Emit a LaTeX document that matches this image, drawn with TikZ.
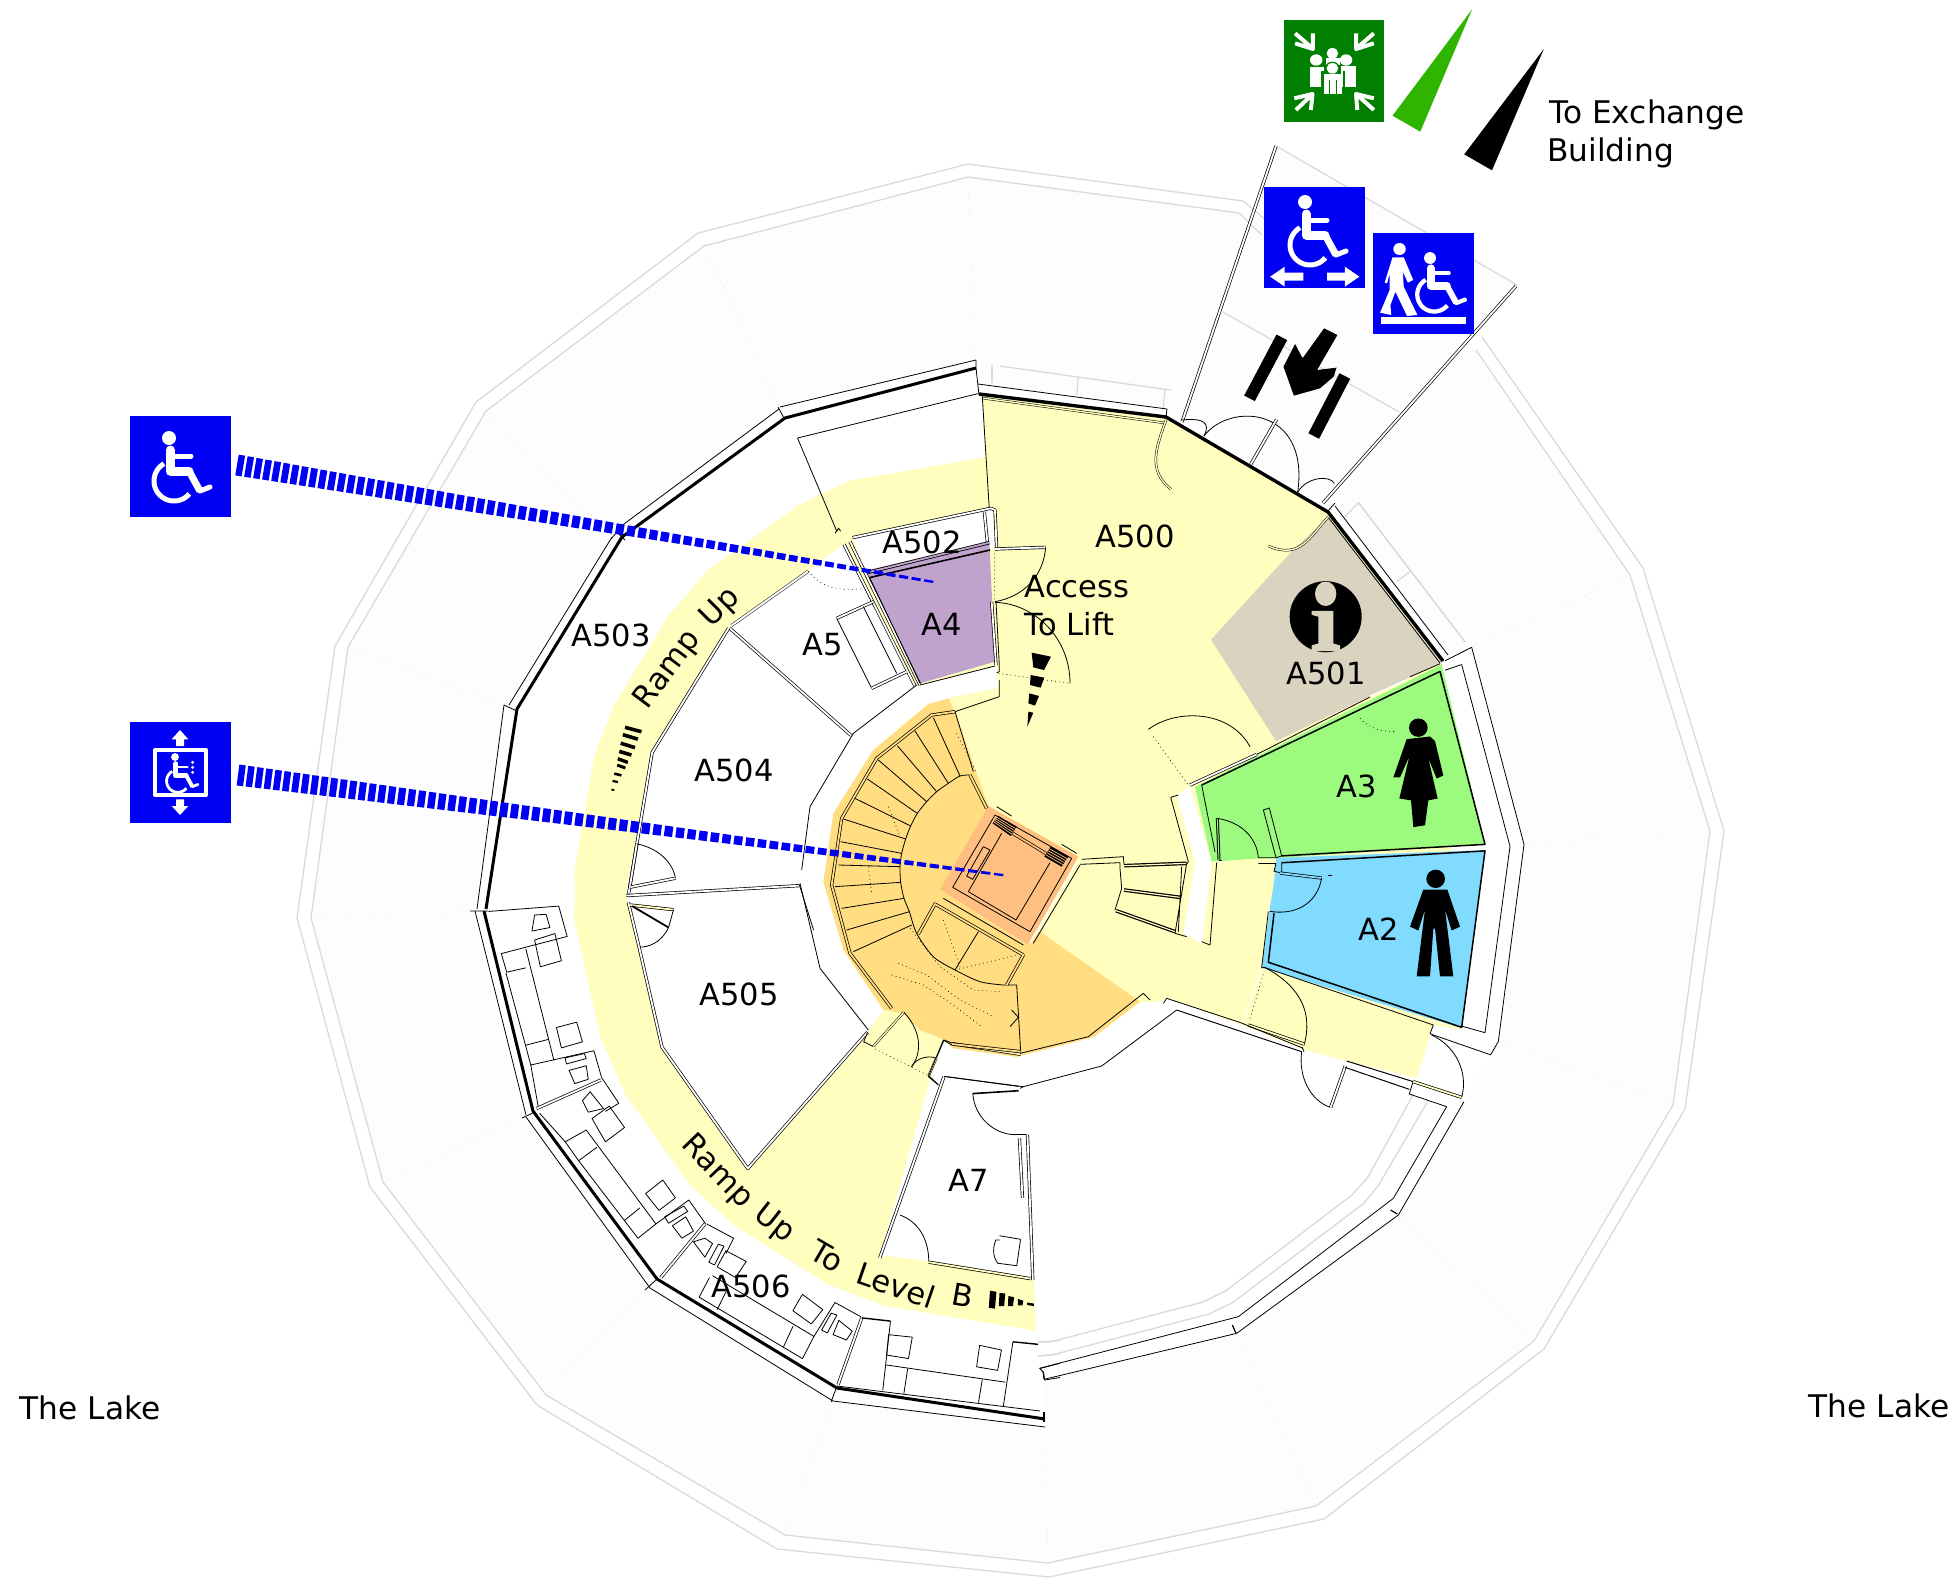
\documentclass[tikz,border=0pt]{standalone}
\usepackage{fontspec}
\setmainfont{DejaVu Sans}
\usetikzlibrary{calc}
\definecolor{yel}{HTML}{FFFEBE}
\definecolor{org}{HTML}{FFDD80}
\definecolor{lift}{HTML}{FFBF80}
\definecolor{pur}{HTML}{BFA3CC}
\definecolor{inf}{HTML}{DAD3C0}
\definecolor{grn}{HTML}{9CFB7F}
\definecolor{blu}{HTML}{80DBFF}
\definecolor{signb}{HTML}{0000F5}
\definecolor{signg}{HTML}{007F00}
\definecolor{wedge}{HTML}{2FB500}
\definecolor{deck}{HTML}{FDFDFD}
\definecolor{ring}{HTML}{DADADA}
\tikzset{
  z1/.style={shift={(1150pt,0pt)},x=0.41454pt,y=-0.33333pt},
  z2/.style={shift={(750pt,-450pt)},x=0.33333pt,y=-0.33333pt},
  z3/.style={shift={(800pt,-680pt)},x=0.33333pt,y=-0.33333pt},
  z4/.style={shift={(1150pt,-500pt)},x=0.33333pt,y=-0.38265pt},
  z5/.style={shift={(460pt,-890pt)},x=0.38265pt,y=-0.35714pt},
  z6/.style={shift={(1000pt,-980pt)},x=0.33333pt,y=-0.33333pt},
  z7/.style={shift={(460pt,-350pt)},x=0.35714pt,y=-0.36990pt},
  z8/.style={shift={(1000pt,-330pt)},x=0.33333pt,y=-0.33333pt},
  z9/.style={shift={(100pt,-400pt)},x=0.33333pt,y=-0.33333pt},
  thk/.style={line width=3pt},
  dbl/.style={line width=0.7pt,double,double distance=1.8pt},
  pale/.style={line width=0.5pt,double=yel,double distance=1.4pt},
  gr/.style={draw=ring,line width=1.3pt},
  dots/.style={line width=0.6pt,dash pattern=on 0.9pt off 3.2pt},
  faint/.style={draw=black!12,line width=0.5pt,dash pattern=on 0.8pt off 3pt},
  lbl/.style={font=\fontsize{30.5}{38}\selectfont,inner sep=0pt},
  lblw/.style={font=\fontsize{31.2}{38}\selectfont,inner sep=0pt},
  signbox/.style={fill=signb,draw=none,inner sep=0pt,minimum width=101pt,minimum height=101pt}
}
\newcommand{\WheelIcon}[3]{%
 \begin{scope}[shift={(#1pt,-#2pt)},x=#3pt,y=-#3pt]
  \fill[white] (0,0) circle[radius=7];
  \draw[white,line width={9*#3 pt},line cap=round] (1,12)--(1,33)--(20,33);
  \draw[white,line width={5*#3 pt},line cap=round] (1,18)--(22,18);
  \draw[white,line width={7*#3 pt}] (20,33)--(31,53);
  \draw[white,line width={5*#3 pt},line cap=round] (31,53)--(41,49);
  \draw[white,line width={5*#3 pt}] plot[domain=40:240,samples=30] ({5+20*cos(\x)},{43+20*sin(\x)});
 \end{scope}}
\newcommand{\BlueDashes}[4]{%
 \foreach \i in {0,...,#3}{%
  \pgfmathsetmacro\ta{(9*\i+0.03*\i*\i)/#4}%
  \pgfmathsetmacro\tb{\ta+0.72*(9+0.06*\i)/#4}%
  \pgfmathsetmacro\wd{21-19*\ta}%
  \draw[signb,line width=\wd pt] ($(#1)!\ta!(#2)$) -- ($(#1)!\tb!(#2)$);
 }}
\begin{document}
\begin{tikzpicture}[x=1pt,y=-1pt,line width=0.8pt,line join=round]
\useasboundingbox (0,0) rectangle (1959,1590);
\fill[white] (0,0) rectangle (1959,1590);

% deck
\fill[deck] (968,177)--(1243,213)--(1476,350)--(1630,575)--(1710,831)--(1673,1105)--(1534,1341)--(1316,1506)--(1048,1563)--(785,1535)--(546,1395)--(383,1182)--(311,918)--(348,647)--(486,411)--(704,246)--cycle;
\fill[deck] (1276,146)--(1517,285)--(1323,503)--(1182,422)--cycle;
% faint radial lines
\draw[faint] (968,177)--(975,360) (704,246)--(780,407) (486,411)--(611,535) (348,647)--(504,705) (311,918)--(475,911) (383,1182)--(526,1115) (546,1395)--(650,1288) (785,1535)--(833,1400) (1048,1563)--(1044,1379) (1316,1506)--(1237,1333) (1534,1341)--(1398,1215) (1673,1105)--(1498,1041) (1710,831)--(1524,844) (1630,575)--(1472,647);
% grey rings
\draw[gr] (1268,222)--(1243,201)--(968,164)--(698,233)--(476,402)--(335,646)--(297,918)--(370,1187)--(537,1405)--(777,1549)--(1049,1577)--(1324,1519)--(1544,1349)--(1685,1109)--(1724,831)--(1643,568)--(1482,337);
\draw[gr] (1262,235)--(1239,213)--(968,177)--(704,246)--(486,411)--(348,647)--(311,918)--(383,1182)--(546,1395)--(785,1535)--(1048,1563)--(1316,1506)--(1534,1341)--(1673,1105)--(1710,831)--(1630,575)--(1476,350);
\draw[gr] (1276,146)--(1517,285);
\draw[gr] (1223,312)--(1399,412);

% building interior white
\fill[white] (976,360)--(780,407)--(611,539)--(504,705)--(475,911)--(526,1115)--(650,1288)--(833,1401)--(1045,1427)--(1044,1379)--(1237,1333)--(1398,1215)--(1464,1102)--(1491,1055)--(1498,1041)--(1524,844)--(1472,647)--(1445,657)--(1335,506)--(1166,410)--(978,384)--cycle;
\draw[gr] (1413,1095)--(1368,1177)--(1352,1195)--(1227,1290)--(1203,1302)--(1050,1342)--(1038,1342);
\draw[gr] (1428,1101)--(1378,1186)--(1363,1204)--(1232,1303)--(1209,1314)--(1052,1355)--(1038,1356);
\begin{scope}[z8]
 \draw[gr] (0,108)--(495,178)--(515,180) (235,140)--(230,195) (495,178)--(490,235);
 \draw[gr] (1075,518)--(1395,935)  (1230,725)--(1190,755) (1035,560)--(1075,518);
\end{scope}
\draw[gr] (992,365)--(992,383);

% yellow base
\fill[yel] (982,394)--(1166,417)--(1328,511)--(1442,663)--(1462,1030)--(1433,1025)--(1417,1078)--(1347,1061)--(1305,1050)--(1240,1024)--(1167,998)--(1160,1002)--(1140,1002)--(1093,1037)--(1017,1057)--(953,1048)--(943,1040)--(930,1080)--(879,1258)--(887,1256)--(929,1261)--(1029,1279)--(1034,1281)--(1036,1331)--(885,1306)--(829,1285)--(735,1226)--(690,1185)--(625,1094)--(600,1036)--(574,919)--(575,890)--(574,875)--(594,757)--(614,705)--(669,615)--(708,570)--(799,505)--(849,481)--(985,457)--cycle;

% white rooms over yellow
\fill[white] (731,626)--(651,751)--(626,894)--(661,1047)--(748,1170)--(868,1031)--(883,1011)--(900,1000)--(920,800)--(948,698)--(998,688)--(997,665)--(915,686)--(845,543)--(808,571)--cycle;
\fill[white] (853,537)--(992,507)--(995,547)--(866,575)--cycle;
\begin{scope}[z3]
 \fill[white] (1130,345)--(1170,318)--(1235,550)--(1205,790)--(1150,760)--(1185,545)--cycle;
\end{scope}

% orange
\begin{scope}[z3]
 \fill[org] (445,55)--(385,72)--(220,210)--(100,400)--(70,605)--(130,810)--(250,990)--(310,1000)--(360,1050)--(430,1078)--(460,1105)--(650,1130)--(880,1072)--(1020,965)--(720,755)--(680,795)--(420,628)--(565,380)--(465,95)--cycle;
 \fill[lift] (565,378)--(835,530)--(683,795)--(420,628)--cycle;
\end{scope}

% coloured rooms
\begin{scope}[z4]
 \fill[inf] (535,45)--(875,425)--(775,465)--(378,630)--(183,365)--(430,130)--cycle;
 \fill[grn] (135,750)--(875,430)--(1005,900)--(385,935)--(320,937)--(185,945)--cycle;
 \fill[blu] (378,935)--(1005,915)--(935,1380)--(335,1222)--(358,1075)--(372,1000)--cycle;
\end{scope}
\begin{scope}[z2]
 \fill[pur] (345,362)--(718,278)--(735,635)--(510,700)--cycle;
\end{scope}

% outer walls
\draw[thk] (976,368)--(785,418)--(622,537)--(517,709)--(486,909);
\draw (976,360)--(780,407) (779,409)--(624,524)--(611,539) (612,537)--(509,705) (504,705)--(477,909);
\draw (976,360)--(976,368)--(979,395);
\draw (778,407)--(785,420) (616,531)--(625,540) (504,705)--(517,711) (470,911)--(488,911);
\draw[thk] (484,911)--(533,1111)--(657,1279)--(837,1388)--(1045,1419);
\draw (475,911)--(526,1115) (526,1117)--(650,1288) (650,1288)--(833,1401)--(1045,1427);
\draw (522,1118)--(535,1112) (645,1290)--(657,1279) (831,1402)--(837,1386)--(1040,1411);
\draw[line width=2.5pt] (1044,1412)--(1044,1422);

% top-right wall
\draw[line width=3.4pt] (979,394)--(1166,417)--(1328,512)--(1443,661);
\draw (978,384)--(1167,409)--(1166,417);
\draw[pale] (982,398)--(1165,423);
\draw (1335,506)--(1448,655) (1328,517)--(1440,663) (1335,503)--(1328,511);
\draw[gr] (1358,502)--(1465,642);

% corridor
\draw[dbl] (1276,146)--(1182,422);
\draw[dbl] (1516,286)--(1323,503);
\begin{scope}[z8]
 \draw (545,270) .. controls (640,260) and (620,300) .. (612,318);
 \draw (612,318) .. controls (690,215) and (930,230) .. (893,487);
 \draw[dbl] (752,403)--(830,268);
 \draw (893,487) .. controls (920,440) and (990,435) .. (1003,460);
 \draw[pale] (498,270) .. controls (470,350) and (440,420) .. (513,478);
 \draw[pale] (985,560) .. controls (930,620) and (900,690) .. (805,648);
\end{scope}
% entrance arrow
\begin{scope}[z1]
 \draw[line width=12pt] (318,1012)--(240,1195);
 \draw[line width=12pt] (470,1128)--(395,1308);
 \fill (420,985)--(452,1005)--(403,1110)--(450,1103)--(443,1130)--(410,1165)--(347,1187)--(322,1100)--(350,1032)--(368,1075)--cycle;
 \fill[wedge] (777,28)--(585,347)--(652,395)--cycle;
 \fill (950,147)--(758,463)--(825,511)--cycle;
\end{scope}

% room A4, A502, A5 walls
\begin{scope}[z7]
 \draw (945,238)--(1450,118) (945,238)--(1055,490) (1462,120)--(1482,430);
 \draw (1055,490)--(1060,482) (1050,495)--(1060,482)--(1066,490);
\end{scope}
\begin{scope}[z2]
 \draw[dbl] (307,263)--(722,175)--(735,180)--(740,298);
 \draw[dbl] (703,185)--(712,275);
 \draw[dbl,double=pur,line width=0.8pt] (350,368)--(718,278);
 \draw[line width=1.6pt] (358,383)--(720,300);
 \draw[dbl] (282,283)--(495,708);
 \draw[dbl] (300,275)--(510,705);
 \draw (360,385)--(510,700);
 \draw (510,705)--(735,648);
 \draw[dbl] (725,455)--(738,645);
 \draw (738,455)--(748,648)--(748,665)--(740,668);
 \draw[dbl] (735,297)--(887,292);
 \draw (887,292) .. controls (880,380) and (820,440) .. (735,455);
 \draw (735,457) .. controls (850,460) and (960,560) .. (960,700);
 \draw[dots] (745,670)--(960,700) (733,310)--(733,450);
 \draw (748,690)--(748,740)--(615,785)--(548,795);
 \draw[dbl] (260,505)--(370,455);
 \draw (260,505)--(365,715);
 \draw[dbl] (365,715)--(470,665);
 \draw (340,470)--(440,670);
 \draw (500,705)--(310,850)--(180,1070)--(155,1260);
\end{scope}
\begin{scope}[z7]
 \draw[dbl,draw=black!70] (760,745)--(975,598);
 \draw[dots] (975,598) .. controls (1020,650) and (1070,650) .. (1130,645);
 \draw[dbl] (755,752)--(1095,1042);
 \draw[dbl] (752,752)--(538,1088)--(472,1470);
 \draw[dbl] (495,1335)--(475,1455);
 \draw (495,1335) .. controls (570,1350) and (600,1400) .. (603,1428);
 \draw[dbl] (603,1428)--(478,1452);
 \draw[dbl] (465,1475)--(950,1448);
 \draw (950,1445)--(990,1568);
\end{scope}

% lower-left rooms
\begin{scope}[z3]
 \draw (0,610)--(60,865)--(205,1050);
\end{scope}
\begin{scope}[z5]
 \draw[dbl] (440,35)--(468,160);
 \draw[dbl] (468,160)--(528,440)--(752,780)--(1065,398);
 \draw[dbl,double=yel] (445,42)--(558,55);
 \draw[line width=1.8pt] (450,45)--(545,105);
 \draw (558,55)--(545,105);
 \draw (545,105) .. controls (525,150) and (490,160) .. (470,160);
 \draw (1065,398)--(1055,425)--(1080,438);
 \draw[pale] (1080,438)--(1160,342);
 \draw (1160,342) .. controls (1210,400) and (1205,460) .. (1180,495);
 \draw (1180,495) .. controls (1195,465) and (1230,465) .. (1243,470);
 \draw[pale] (1225,520)--(1245,470);
 \draw (1225,520)--(1250,545);
 \draw (1245,470)--(1265,420)--(1285,428);
 \draw[dbl,double=yel] (1285,430)--(1465,460);
 \draw[dots] (1085,445)--(1225,520);
 % A7
 \draw[dbl] (1265,522)--(1097,1030);
 \draw (1265,522)--(1460,550);
 \draw[line width=1.6pt] (1340,570)--(1460,562);
 \draw (1340,570) .. controls (1345,640) and (1400,685) .. (1450,685);
 \draw (1450,685)--(1478,685);
 \draw[dbl] (1483,685)--(1497,1092);
 \draw[dbl] (1462,695)--(1470,862);
 \draw[dbl,double=yel] (1225,1042)--(1490,1088);
 \draw (1150,910) .. controls (1200,930) and (1225,980) .. (1225,1040);
 \draw (1410,968)--(1465,978) (1400,980) .. controls (1390,1010) and (1395,1030) .. (1405,1045) (1405,1045)--(1455,1052)--(1465,978) (1410,980)--(1400,980);
 % office 1
 \draw (75,60)--(258,45)--(280,130)--(108,178)--(122,230)--(172,218);
 \draw (172,165)--(245,475) (120,232)--(185,490)--(350,450)--(370,525) (170,435)--(232,418);
 \draw (195,70)--(225,68)--(235,105)--(188,115)--cycle;
 \draw (195,140)--(248,122)--(265,198)--(210,215)--cycle;
 \draw (252,385)--(305,370)--(320,425)--(265,442)--cycle;
 \draw (275,470)--(325,458)--(330,472)--(278,487)--cycle;
 \draw (285,505)--(330,492)--(335,530)--(300,542)--cycle;
 \draw (185,490)--(205,610);
 \draw[dbl] (200,612)--(368,532);
 \draw (370,525)--(415,597)--(380,620);
 % office 2
 \draw (340,565)--(375,612)--(335,622)--(320,590)--cycle;
 \draw (345,640)--(390,605)--(430,665)--(380,705)--cycle;
 \draw (208,625)--(275,705)--(330,672)--(512,935);
 \draw (310,758)--(358,720) (275,705)--(310,758)--(465,975)--(512,935) (430,925)--(470,890);
 \draw (485,850)--(530,812)--(563,862)--(520,897)--cycle;
 \draw (535,915)--(585,885)--(595,900)--(545,933)--cycle;
 \draw (555,940)--(590,915)--(610,955)--(580,975)--cycle;
 \draw (512,935)--(598,868)--(642,935);
 \draw[dbl] (525,1085)--(640,935);
 % office 3
 \draw (645,935)--(715,975)--(695,1018);
 \draw (610,985)--(640,975)--(660,990)--(640,1028)--cycle;
 \draw (675,992)--(690,997)--(665,1050)--(650,1042)--cycle;
 \draw (695,1010)--(748,1040)--(720,1085)--(672,1055)--cycle;
 \draw (660,1080)--(925,1250) (625,1140)--(652,1085) (625,1140)--(895,1312)--(925,1250) (672,1175)--(695,1125) (845,1280)--(870,1222);
 \draw (895,1132)--(948,1175)--(918,1215)--(870,1178)--cycle;
 \draw (970,1185)--(985,1190)--(960,1240)--(945,1232)--cycle;
 \draw (990,1205)--(1025,1235)--(1010,1260)--(975,1245)--cycle;
 \draw (925,1250)--(980,1155)--(1048,1195);
 \draw[dbl] (988,1385)--(1050,1198);
 % office 4
 \draw[line width=1.4pt] (1050,1198)--(1125,1207);
 \draw (1125,1207)--(1105,1400) (1115,1330)--(1425,1378);
 \draw[line width=1.4pt] (1445,1265)--(1510,1272);
 \draw (1445,1265)--(1420,1445);
 \draw (1120,1245)--(1182,1252)--(1172,1312)--(1115,1302)--cycle;
 \draw (1358,1275)--(1415,1288)--(1405,1345)--(1350,1335)--cycle;
 \draw (1170,1340)--(1160,1410) (1365,1370)--(1355,1435);
 \draw (1568,1325)--(1515,1340)--(1525,1350)--(1528,1372)--(1568,1365);
 \draw[gr] (1510,1265)--(1568,1262) (1510,1305)--(1568,1298);
\end{scope}

% stairs
\begin{scope}[z3]
 \draw[dbl,double=org] (465,95)--(395,105)--(230,235)--(125,415)--(95,615)--(150,820)--(275,985);
 \foreach \a/\b/\c/\d in {400/113/480/288,345/153/445/310,292/197/410/335,235/240/380/365,202/297/352/400,165/355/332/438,130/417/317/477,122/485/305/520,115/555/300/560,105/620/302/607,125/685/312/655,140/750/328/695,160/815/335/735}
  \draw (\a,\b)--(\c,\d);
 \draw (465,95)--(520,275);
 \draw[dbl,double=org] (510,285)--(560,385);
 \draw plot[smooth] coordinates {(510,285)(480,288)(445,310)(410,335)(380,365)(352,400)(332,438)(317,477)(305,520)(300,560)(302,607)(312,655)(328,695)(350,760)(400,830)(465,870)(540,905)(610,915)};
 \draw (610,915)--(650,915)--(662,1115);
 \draw[dbl,double=org] (455,1092)--(662,1115);
 \draw (430,1080)--(455,1095) (430,1080)--(385,1190);
 \draw[dbl,double=org] (355,762)--(405,672)--(670,825)--(620,915);
 \draw (535,755)--(465,870);
 \draw (635,990)--(655,1012)--(630,1040);
 \draw[dots] (275,885)--(370,915)--(460,975)--(545,1040);
 \draw[dots] (295,850)--(380,885)--(480,960)--(580,1010);
 \draw[dots] (330,745)--(420,860)--(520,930)--(600,935);
 \draw[dots] (465,870)--(650,825) (430,720)--(480,860);
 \draw[dots] (205,560)--(215,640) (265,380)--(300,470) (470,160)--(530,280);
 % lift
 \draw (585,405)--(815,535)--(690,755)--(458,622)--cycle;
 \draw (605,460)--(505,635)--(648,720)--(750,548);
 \draw[dbl,double=lift] (635,458)--(745,525);
 \draw (550,500)--(570,510)--(518,598)--(500,588)--cycle;
 \draw (590,380)--(635,408) (785,493)--(830,520) (430,655)--(670,795);
 \fill (578,430)--(595,408)--(650,440)--(632,468)--cycle;
 \fill (733,530)--(752,500)--(805,530)--(785,560)--cycle;
 \foreach \t in {0.2,0.4,0.6,0.8}{
  \draw[lift,line width=0.7pt] ($(578,430)!\t!(595,408)$)--($(632,468)!\t!(650,440)$);
  \draw[lift,line width=0.7pt] ($(733,530)!\t!(752,500)$)--($(785,560)!\t!(805,530)$);
 }
 \draw (700,790)--(840,555);
 \draw[white,line width=1.4pt] (690,790)--(832,545);
 % lobby
 \draw (845,538)--(970,530)--(972,553);
 \draw (840,553)--(960,548)--(960,565)--(965,625)--(945,690);
 \draw[line width=1.2pt,double,double distance=1.2pt,double=yel] (972,557)--(1160,550);
 \draw[line width=1.2pt,double,double distance=1.2pt,double=yel] (972,630)--(1140,652);
 \draw[line width=1.2pt,double,double distance=1.2pt,double=yel] (948,692)--(1125,755);
 \draw (1160,550)--(1125,760) (1145,560)--(1135,755) (1125,760)--(1160,770);
 \draw (1112,352)--(1135,345) (1112,352)--(1165,545) (1165,545)--(1160,552);
 \draw (1250,548)--(1230,795)--(1205,785);
 \draw[dots] (1060,170)--(1165,315);
 \draw (1045,148) .. controls (1130,85) and (1290,90) .. (1350,200);
\end{scope}

% A3 / A2 walls
\begin{scope}[z4]
 \draw[dbl] (120,745)--(320,665);
 \draw (320,665)--(660,515) (780,462)--(870,428);
 \draw[line width=1.5pt] (155,745)--(870,448)--(1005,900)--(395,930);
 \draw[fill=grn] (340,810)--(358,805)--(395,930)--(378,935)--cycle;
 \draw (155,745)--(195,920);
 \draw[dots] (630,570) .. controls (660,600) and (700,605) .. (735,605);
 \draw[white,line width=1.2pt] (660,512)--(770,470);
 \draw[line width=1pt,double,double distance=1pt,double=grn] (202,832)--(207,940);
 \draw (200,832) .. controls (270,840) and (320,880) .. (325,935);
 \draw (325,935)--(375,935) (325,950)--(378,950)--(372,970)--(395,975)--(395,948);
 \draw[dbl] (207,945)--(217,945);
 \draw[line width=1.5pt] (395,948)--(1005,917)--(935,1378)--(355,1208)--(372,1080);
 \draw[dbl,double=blu] (390,975)--(515,988);
 \draw (515,988) .. controls (500,1060) and (430,1085) .. (360,1075);
 \draw (535,982)--(545,982);
 \draw (355,1075)--(335,1222)--(345,1222);
 \draw (345,1222)--(850,1372)--(840,1395)--(1022,1450)--(1045,1415)--(1122,900)--(965,385)--(885,420);
 \draw (935,430)--(1080,905)--(1005,1392)--(935,1375);
 \draw (885,445)--(935,430);
 \draw[white,line width=1pt] (275,1365)--(335,1228);
 \draw[dots] (340,1240)--(300,1355);
 \draw (345,1222) .. controls (450,1270) and (490,1340) .. (462,1425);
\end{scope}

% lower wall
\begin{scope}[z6]
 \draw (490,70)--(500,55)--(722,128);
 \draw[line width=1pt] (530,90)--(905,215);
 \draw[dbl,double=yel] (745,135)--(912,192);
 \draw (722,128)--(910,205);
 \draw (905,200)--(912,215);
 \draw (530,90)--(305,258)--(70,320)--(60,325);
 \draw (905,215) .. controls (895,290) and (930,360) .. (990,382);
 \draw[dbl] (992,382)--(1036,258);
 \draw[line width=1pt] (1040,243)--(1240,305) (1035,262)--(1228,328);
 \draw (1240,302)--(1228,342)--(1340,380);
 \draw[dbl,double=yel] (1240,305)--(1385,352);
 \draw (1340,380)--(1180,655)--(715,1010)--(118,1165);
 \draw (1392,365)--(1195,705)--(710,1060)--(132,1198)--(128,1172);
 \draw[line width=1.2pt] (1172,690)--(1192,702) (697,1035)--(708,1060);
 \draw (1295,165) .. controls (1370,200) and (1405,280) .. (1385,352);
\end{scope}
\begin{scope}[z3]
 \draw (660,1120)--(865,1070)--(1030,940)--(1050,960);
 \draw (385,1190)--(415,1215);
 \draw (440,1190)--(670,1220);
\end{scope}

% ramp markers
\begin{scope}[z2]
 \fill (845,608)--(903,620)--(882,660)--(850,652)--cycle;
 \fill (842,675)--(883,683)--(872,713)--(840,705)--cycle;
 \fill (838,730)--(867,738)--(855,767)--(835,760)--cycle;
 \fill (835,785)--(850,788)--(832,830)--cycle;
\end{scope}
\begin{scope}[z7]
 \foreach \a/\b/\c/\d/\w in {462/1020/508/1032/3.6,456/1040/498/1052/3.6,450/1063/490/1075/3.6,446/1085/480/1095/3.6,442/1105/470/1115/3.4,440/1122/463/1130/3,432/1145/452/1150/2.6,427/1165/442/1168/2.2,424/1188/432/1190/1.8}
  \draw[line width=\w pt] (\a,\b)--(\c,\d);
\end{scope}
\begin{scope}[z5]
 \fill (1385,1122)--(1402,1125)--(1398,1172)--(1382,1170)--cycle;
 \fill (1410,1128)--(1425,1130)--(1422,1165)--(1408,1165)--cycle;
 \fill (1433,1137)--(1448,1140)--(1445,1165)--(1432,1165)--cycle;
 \fill (1458,1145)--(1472,1150)--(1470,1163)--(1458,1163)--cycle;
 \fill (1482,1155)--(1500,1158)--(1500,1165)--(1482,1162)--cycle;
\end{scope}

% person icons + info
\begin{scope}[z4]
 \fill (805,595) ellipse[x radius=28,y radius=24];
 \fill (770,625)--(840,618)--(855,630)--(880,720)--(860,728)--(835,675)--(863,780)--(835,785)--(825,850)--(790,855)--(783,785)--(748,780)--(778,670)--(750,725)--(730,725)--cycle;
 \fill (857,990) ellipse[x radius=28,y radius=24];
 \fill (820,1018)--(892,1018)--(930,1115)--(905,1125)--(885,1070)--(910,1245)--(870,1245)--(855,1120)--(850,1120)--(840,1245)--(800,1245)--(825,1070)--(805,1125)--(780,1115)--cycle;
 \fill (527,305) ellipse[x radius=108,y radius=93];
 \fill[inf] (527,245) ellipse[x radius=32,y radius=32];
 \fill[inf] (485,290)--(550,290)--(550,375)--(570,380)--(570,395)--(485,395)--(485,380)--(505,375)--(505,305)--(485,300)--cycle;
\end{scope}

% signs
\node[signbox] (signWalk) at (180.5,466.5) {};
\node[signbox] (signLift) at (180.5,772.5) {};
\node[signbox] (signRamp) at (1314.5,237.5) {};
\node[signbox] (signPath) at (1423.5,283) {};
\node[fill=signg,inner sep=0pt,minimum width=100pt,minimum height=102pt] (signMuster) at (1334,71) {};

\WheelIcon{169}{438}{1}
\WheelIcon{1305}{202}{1}
\WheelIcon{1430}{258}{0.85}
\WheelIcon{175}{757}{0.56}
\begin{scope}[z9]
 \draw[white,line width=4pt] (165,1050) rectangle (318,1185);
 \fill[white] (240,990)--(265,1018)--(252,1018)--(252,1038)--(228,1038)--(228,1018)--(215,1018)--cycle;
 \fill[white] (240,1245)--(265,1218)--(252,1218)--(252,1198)--(228,1198)--(228,1218)--(215,1218)--cycle;
 \fill[white] (278,1087) circle[radius=5] (278,1102) circle[radius=5] (278,1117) circle[radius=5];
\end{scope}
\begin{scope}[z1]
 % ramp-sign arrows
 \fill[white] (290,830)--(325,800)--(325,818)--(370,818)--(370,842)--(325,842)--(325,860)--cycle;
 \fill[white] (505,830)--(470,800)--(470,818)--(427,818)--(427,842)--(470,842)--(470,860)--cycle;
 % walker
 \fill[white] (602,747) ellipse[x radius=15,y radius=18];
 \fill[white] (585,772)--(612,772)--(635,840)--(622,848)--(610,815)--(612,860)--(645,945)--(620,948)--(592,875)--(580,915)--(582,945)--(555,938)--(578,870)--(578,820)--(572,850)--(566,848)--cycle;
 \fill[white] (558,952)--(762,952)--(762,972)--(558,972)--cycle;
 % muster sign
 \begin{scope}[line width=4pt,white]
  \draw (393,100)--(393,147)--(350,130) (350,100)--(390,143);
  \draw (497,100)--(497,147)--(540,130) (540,100)--(500,143);
  \draw (348,295)--(392,282)--(388,330) (352,330)--(390,285);
  \draw (540,295)--(497,282)--(500,330) (540,330)--(500,285);
 \end{scope}
 \fill[white] (440,160) ellipse[x radius=14,y radius=16] (401,180) ellipse[x radius=15,y radius=17] (473,180) ellipse[x radius=15,y radius=17];
 \fill[white] (425,175)--(458,175)--(458,195)--(425,195)--cycle;
 \fill[white] (385,200)--(420,200)--(420,262)--(385,262)--cycle;
 \fill[white] (460,198)--(498,198)--(498,262)--(460,262)--cycle;
 \draw[signg,line width=2.6pt] (416,212)--(416,284)--(468,284)--(468,212);
 \fill[signg] (440,205) ellipse[x radius=18,y radius=20];
 \fill[white] (440,205) ellipse[x radius=14,y radius=16];
 \fill[white] (420,222)--(464,222)--(464,282)--(420,282)--cycle;
 \draw[signg,line width=0.8pt] (433,240)--(433,282) (450,240)--(450,282);
\end{scope}

% blue dashed connectors
\coordinate (walkStart) at (237,465);
\coordinate (walkEnd) at (940,583);
\coordinate (liftStart) at (238,775);
\coordinate (liftEnd) at (1010,876);
\BlueDashes{walkStart}{walkEnd}{64}{715}
\BlueDashes{liftStart}{liftEnd}{69}{780}

% texts
\node[lbl] (tA500) at (1135,536) {A500};
\node[lbl,align=left] (tAccess) at (1077,606) {Access\\To Lift};
\node[lbl] (tA501) at (1326,673) {A501};
\node[lbl] (tA3) at (1357,786) {A3};
\node[lbl] (tA2) at (1379,929) {A2};
\node[lbl] (tA4) at (942,624) {A4};
\node[lbl] (tA5) at (823,645) {A5};
\node[lbl] (tA502) at (922,542) {A502};
\node[lbl] (tA503) at (611,635) {A503};
\node[lbl] (tA504) at (734,770) {A504};
\node[lbl] (tA505) at (739,994) {A505};
\node[lbl] (tA506) at (751,1286) {A506};
\node[lbl] (tA7) at (969,1180) {A7};
\node[lblw] (tLakeL) at (90,1408) {The Lake};
\node[lblw] (tLakeR) at (1879,1406) {The Lake};
\node[lblw,anchor=base west] (tEx) at (1549,123) {To Exchange};
\node[lblw,anchor=base west] (tBld) at (1547,161) {Building};
\node[lbl,rotate=53] (tR1) at (668,670) {Ramp};
\node[lbl,rotate=45] (tU1) at (721,608) {Up};
\node[lbl,rotate=-46] (tR2) at (717,1172) {Ramp};
\node[lbl,rotate=-38] (tU2) at (774,1224) {Up};
\node[lbl,rotate=-30] (tT2) at (827,1256) {To};
\node[lbl,rotate=-19] (tL2) at (896,1285) {Level};
\node[lbl,rotate=-10] (tB2) at (963,1295) {B};
\end{tikzpicture}
\end{document}
